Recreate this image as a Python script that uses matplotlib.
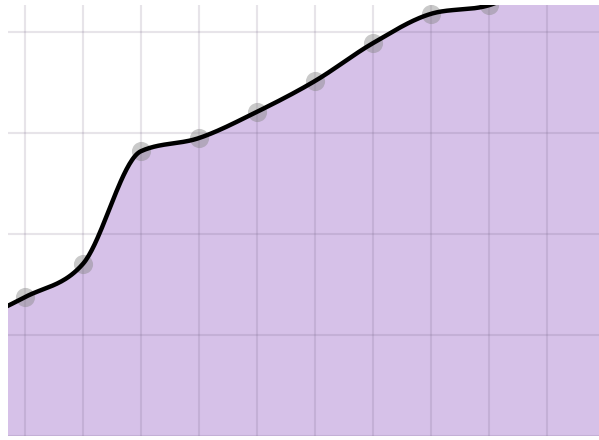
import numpy as np
import matplotlib
matplotlib.use("Agg")
import matplotlib.pyplot as plt

# values (grid step = 20); the outer points sit outside the view
x_idx = [-1, 0, 1, 2, 3, 4, 5, 6, 7, 8, 9, 10]
values = [22.0, 27.5, 34.1, 56.4, 59.0, 64.2, 70.3, 77.8, 83.6, 85.3, 92.0, 98.0]
y_grid = [0, 20, 40, 60, 80]


def monotone_x(x, y, n=40):
    # same slopes as d3.curveMonotoneX
    x = np.asarray(x, float)
    y = np.asarray(y, float)
    h = np.diff(x)
    s = np.diff(y) / h
    t = np.zeros_like(y)
    for i in range(1, len(y) - 1):
        p = (s[i - 1] * h[i] + s[i] * h[i - 1]) / (h[i - 1] + h[i])
        t[i] = (np.sign(s[i - 1]) + np.sign(s[i])) * min(abs(s[i - 1]), abs(s[i]), 0.5 * abs(p))
    t[0] = (3 * s[0] - t[1]) / 2
    t[-1] = (3 * s[-1] - t[-2]) / 2
    xs, ys = [], []
    for i in range(len(h)):
        u = np.linspace(0, 1, n, endpoint=(i == len(h) - 1))
        h00 = 2 * u**3 - 3 * u**2 + 1
        h10 = u**3 - 2 * u**2 + u
        h01 = -2 * u**3 + 3 * u**2
        h11 = u**3 - u**2
        xs.append(x[i] + u * h[i])
        ys.append(h00 * y[i] + h10 * h[i] * t[i] + h01 * y[i + 1] + h11 * h[i] * t[i + 1])
    return np.concatenate(xs), np.concatenate(ys)


xs, ys = monotone_x(x_idx, values)

fig = plt.figure(figsize=(5.99, 4.40), dpi=100)
ax = fig.add_axes([8 / 599, 4 / 440, 591 / 599, 431 / 440])

ax.fill_between(xs, 0, ys, color="#d6c1e8", zorder=1, lw=0)
for xv in x_idx:
    ax.axvline(xv, color="#6a5a7a", alpha=0.16, lw=1.5, zorder=2)
for yv in y_grid:
    ax.axhline(yv, color="#6a5a7a", alpha=0.16, lw=1.5, zorder=2)
ax.scatter(x_idx, values, s=190, color="#888888", alpha=0.45, lw=0, zorder=3)
ax.plot(xs, ys, color="black", lw=3.2, zorder=4, solid_capstyle="round")

ax.set_xlim(-17 / 58, 574 / 58)
ax.set_ylim(0, 431 / 101 * 20)
ax.set_xticks([])
ax.set_yticks([])
for sp in ax.spines.values():
    sp.set_visible(False)

plt.savefig("out.png", dpi=100)
